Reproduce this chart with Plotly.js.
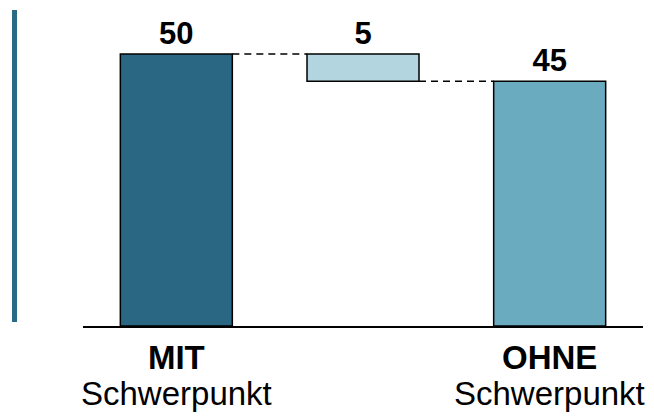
<!DOCTYPE html>
<html>
<head>
<meta charset="utf-8">
<script src="https://cdn.plot.ly/plotly-3.0.1.min.js"></script>
<style>html,body{margin:0;padding:0;background:#fff;}#chart{width:654px;height:417px;}</style>
</head>
<body>
<div id="chart"></div>
<script>
var categories = ["MIT", "Veränderung", "OHNE"];
var tickLabels = ["<b>MIT</b>", "", "<b>OHNE</b>"];
var subLabels = ["Schwerpunkt", "", "Schwerpunkt"];
var heights = [50, 5, 45];
var bases = [0, 45, 0];
var valueLabels = ["50", "5", "45"];
var barColors = ["#296783", "#b2d5df", "#6aabc0"];

var barWidth = 0.6;
var half = barWidth / 2;
var FONT = "Liberation Sans, Arial, sans-serif";

var trace = {
  type: "bar",
  x: categories,
  y: heights,
  base: bases,
  width: barWidth,
  marker: {color: barColors, line: {color: "#000", width: 1.5}},
  text: valueLabels.map(function(t){return "<b>" + t + "</b>";}),
  textposition: "outside",
  textfont: {family: FONT, size: 31, color: "#000"},
  cliponaxis: false,
  hoverinfo: "none"
};

// connectors computed from data
var shapes = [];
for (var i = 0; i < heights.length - 1; i++) {
  var level = (i === 0) ? bases[0] + heights[0] : bases[i];
  shapes.push({
    type: "line", xref: "x", yref: "y",
    x0: i + half, x1: i + 1 - half, y0: level, y1: level,
    line: {color: "#000", width: 1.5, dash: "7px,5px"}
  });
}
// left vertical accent line
shapes.push({
  type: "line", xref: "paper", yref: "paper",
  x0: -0.1223, x1: -0.1223, y0: 1.0, y1: 0.013,
  line: {color: "#2a6a87", width: 5}
});

var annotations = [];
subLabels.forEach(function(s, i){
  if (!s) return;
  annotations.push({
    x: categories[i], xref: "x", y: -0.215, yref: "paper",
    text: s, showarrow: false, xanchor: "center", yanchor: "middle",
    font: {family: FONT, size: 33, color: "#000"}
  });
});

var layout = {
  width: 654, height: 417,
  margin: {l: 83, r: 11, t: 10, b: 91},
  paper_bgcolor: "#fff", plot_bgcolor: "#fff",
  showlegend: false,
  bargap: 0.4,
  xaxis: {
    type: "category",
    range: [-0.5, 2.5],
    tickvals: categories,
    ticktext: tickLabels,
    showline: true, linecolor: "#000", linewidth: 1.5,
    showgrid: false, zeroline: false, ticks: "",
    tickfont: {family: FONT, size: 33, color: "#000"},
    ticklabelstandoff: 2
  },
  yaxis: {
    range: [0, 58.09],
    visible: false, showgrid: false, zeroline: false
  },
  shapes: shapes,
  annotations: annotations
};

Plotly.newPlot("chart", [trace], layout, {displayModeBar: false, staticPlot: true});
</script>
</body>
</html>
